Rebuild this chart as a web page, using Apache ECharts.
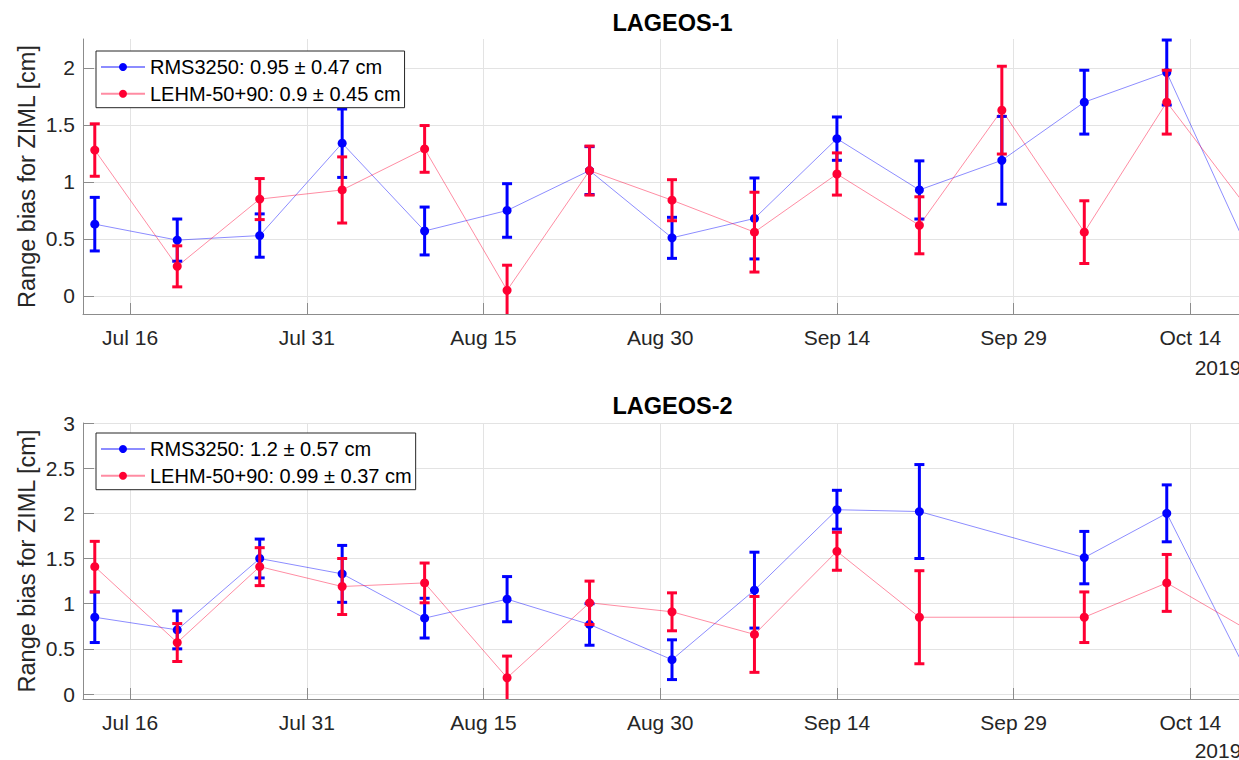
<!DOCTYPE html>
<html>
<head>
<meta charset="utf-8">
<script src="https://cdn.jsdelivr.net/npm/echarts@6/dist/echarts.min.js"></script>
<style>
html,body{margin:0;padding:0;overflow:hidden;background:#fff;width:1239px;height:760px}
#c{width:1280px;height:760px}
</style>
</head>
<body>
<div id="c"></div>
<script>
// ---------- data ----------
const titles = ['LAGEOS-1', 'LAGEOS-2'];
const yName = 'Range bias for ZIML [cm]';
const yearLabel = '2019';
const tickDates = ['2019-07-16','2019-07-31','2019-08-15','2019-08-30','2019-09-14','2019-09-29','2019-10-14'];
const yTicks1 = [0, 0.5, 1, 1.5, 2];
const yTicks2 = [0, 0.5, 1, 1.5, 2, 2.5, 3];

const legend1 = ['RMS3250: 0.95 ± 0.47 cm', 'LEHM-50+90: 0.9 ± 0.45 cm'];
const legend2 = ['RMS3250: 1.2 ± 0.57 cm', 'LEHM-50+90: 0.99 ± 0.37 cm'];

const dates1 = ['2019-07-13','2019-07-20','2019-07-27','2019-08-03','2019-08-10','2019-08-17','2019-08-24','2019-08-31','2019-09-07','2019-09-14','2019-09-21','2019-09-28','2019-10-05','2019-10-12','2019-10-19'];
const l1Rms     = [0.63, 0.49, 0.53, 1.34, 0.57, 0.75, 1.10, 0.51, 0.68, 1.38, 0.93, 1.19, 1.70, 1.96, 0.38];
const l1RmsErr  = [0.235,0.185,0.19, 0.30, 0.21, 0.235,0.21, 0.18, 0.355,0.19, 0.255,0.385,0.28, 0.285,0.25];
const l1Lehm    = [1.28, 0.26, 0.85, 0.93, 1.29, 0.05, 1.10, 0.84, 0.56, 1.07, 0.62, 1.63, 0.56, 1.70, 0.75];
const l1LehmErr = [0.23, 0.18, 0.18, 0.29, 0.205,0.22, 0.215,0.18, 0.35, 0.185,0.25, 0.385,0.275,0.28, 0.25];

const dates2 = ['2019-07-13','2019-07-20','2019-07-27','2019-08-03','2019-08-10','2019-08-17','2019-08-24','2019-08-31','2019-09-07','2019-09-14','2019-09-21','2019-10-05','2019-10-12','2019-10-19'];
const l2Rms     = [0.85, 0.71, 1.50, 1.33, 0.84, 1.05, 0.77, 0.38, 1.15, 2.04, 2.02, 1.51, 2.00, 0.19];
const l2RmsErr  = [0.28, 0.21, 0.215,0.315,0.22, 0.25, 0.23, 0.22, 0.42, 0.215,0.52, 0.29, 0.315,0.25];
const l2Lehm    = [1.41, 0.57, 1.41, 1.19, 1.23, 0.18, 1.01, 0.91, 0.66, 1.58, 0.85, 0.85, 1.23, 0.70];
const l2LehmErr = [0.28, 0.21, 0.21, 0.31, 0.22, 0.24, 0.24, 0.21, 0.42, 0.21, 0.515,0.28, 0.315,0.25];

// ---------- helpers ----------
const FONT = "'Liberation Sans', Arial, Helvetica, sans-serif";
const months = ['Jan','Feb','Mar','Apr','May','Jun','Jul','Aug','Sep','Oct','Nov','Dec'];
const t = s => Date.UTC(+s.slice(0,4), +s.slice(5,7) - 1, +s.slice(8,10));
const fmtDate = v => { const d = new Date(v); return months[d.getUTCMonth()] + ' ' + d.getUTCDate(); };
const BLUE = '#0000ff', BLUE_L = 'rgba(0,0,255,0.45)';
const RED = '#ff0033', RED_L = 'rgba(255,0,51,0.45)';
const AXIS = '#8c8c8c', GRIDC = '#e3e3e3', TXT = '#262626';

function errSeries(dates, vals, errs, color, idx, z) {
  return {
    type: 'custom', xAxisIndex: idx, yAxisIndex: idx, z: z, silent: true,
    data: dates.map((d, i) => [t(d), vals[i] - errs[i], vals[i] + errs[i]]),
    encode: { x: 0, y: [1, 2] },
    renderItem: (params, api) => {
      const cs = params.coordSys;
      const x = api.value(0);
      const lo = api.coord([x, api.value(1)]);
      const hi = api.coord([x, api.value(2)]);
      const bottom = cs.y + cs.height, top = cs.y;
      const st = { stroke: color, lineWidth: 3 };
      const hw = 5;
      const children = [];
      let yl = lo[1], yh = hi[1];
      const capLo = yl <= bottom, capHi = yh >= top;
      yl = Math.min(yl, bottom); yh = Math.max(yh, top);
      children.push({ type: 'line', shape: { x1: lo[0], y1: yl, x2: lo[0], y2: yh }, style: st });
      if (capLo) children.push({ type: 'line', shape: { x1: lo[0] - hw, y1: yl, x2: lo[0] + hw, y2: yl }, style: st });
      if (capHi) children.push({ type: 'line', shape: { x1: lo[0] - hw, y1: yh, x2: lo[0] + hw, y2: yh }, style: st });
      return { type: 'group', children: children };
    }
  };
}
function lineSeries(name, dates, vals, color, lineColor, idx, z) {
  return {
    type: 'line', name: name, xAxisIndex: idx, yAxisIndex: idx, z: z,
    data: dates.map((d, i) => [t(d), vals[i]]),
    symbol: 'circle', symbolSize: 9, showSymbol: true,
    lineStyle: { color: lineColor, width: 1 },
    itemStyle: { color: color },
    emphasis: { disabled: true }, clip: true
  };
}
function xAxis(idx) {
  return {
    type: 'value', gridIndex: idx, min: t('2019-07-12'), max: t('2019-10-20'),
    axisLine: { show: true, onZero: false, lineStyle: { color: AXIS, width: 1 } },
    axisTick: { show: true, inside: true, length: 11, customValues: tickDates.map(t), lineStyle: { color: AXIS } },
    axisLabel: { customValues: tickDates.map(t), formatter: fmtDate, margin: 13, color: TXT, fontSize: 21, fontFamily: FONT },
    splitLine: { show: true, lineStyle: { color: GRIDC, width: 1 } }
  };
}
function yAxis(idx, min, max, ticks) {
  return {
    type: 'value', gridIndex: idx, min: min, max: max,
    axisLine: { show: true, lineStyle: { color: AXIS, width: 1 } },
    axisTick: { show: true, inside: true, length: 11, customValues: ticks, lineStyle: { color: AXIS } },
    axisLabel: { customValues: ticks, margin: 8, color: TXT, fontSize: 21, fontFamily: FONT },
    splitLine: { show: true, lineStyle: { color: GRIDC, width: 1 } }
  };
}
function legend(names, top) {
  return {
    data: names, orient: 'vertical', left: 96, top: top,
    itemWidth: 44, itemHeight: 10, itemGap: 6.7,
    padding: [6, 4, 4, 4],
    borderColor: '#262626', borderWidth: 1, backgroundColor: '#fff',
    selectedMode: false,
    textStyle: { fontSize: 20, fontFamily: FONT, color: '#000' }
  };
}
function txt(text, x, y, size, bold, rot, color) {
  return { type: 'text', x: x, y: y, rotation: rot || 0, z: 100,
    style: { text: text, fill: color || TXT, font: (bold ? 'bold ' : '') + size + 'px ' + FONT,
      textAlign: 'center', textVerticalAlign: 'middle' } };
}

const chart = echarts.init(document.getElementById('c'), null, { renderer: 'svg' });
chart.setOption({
  animation: false,
  backgroundColor: '#fff',
  grid: [
    { left: 83, top: 39, width: 1178, height: 275 },
    { left: 83, top: 423, width: 1178, height: 276 }
  ],
  xAxis: [xAxis(0), xAxis(1)],
  yAxis: [yAxis(0, -0.158, 2.254, yTicks1), yAxis(1, -0.055, 3, yTicks2)],
  legend: [legend(legend1, 51), legend(legend2, 433)],
  graphic: [
    txt(titles[0], 672.5, 22.5, 23.5, true, 0, '#000'),
    txt(titles[1], 672.5, 406, 23.5, true, 0, '#000'),
    txt(yName, 27, 176.5, 23.5, false, Math.PI / 2),
    txt(yName, 27, 561, 23.5, false, Math.PI / 2),
    txt(yearLabel, 1218, 367, 21, false, 0),
    txt(yearLabel, 1218, 750, 21, false, 0)
  ],
  series: [
    errSeries(dates1, l1Rms, l1RmsErr, BLUE, 0, 2),
    lineSeries(legend1[0], dates1, l1Rms, BLUE, BLUE_L, 0, 3),
    errSeries(dates1, l1Lehm, l1LehmErr, RED, 0, 4),
    lineSeries(legend1[1], dates1, l1Lehm, RED, RED_L, 0, 5),
    errSeries(dates2, l2Rms, l2RmsErr, BLUE, 1, 2),
    lineSeries(legend2[0], dates2, l2Rms, BLUE, BLUE_L, 1, 3),
    errSeries(dates2, l2Lehm, l2LehmErr, RED, 1, 4),
    lineSeries(legend2[1], dates2, l2Lehm, RED, RED_L, 1, 5)
  ]
});
</script>
</body>
</html>
